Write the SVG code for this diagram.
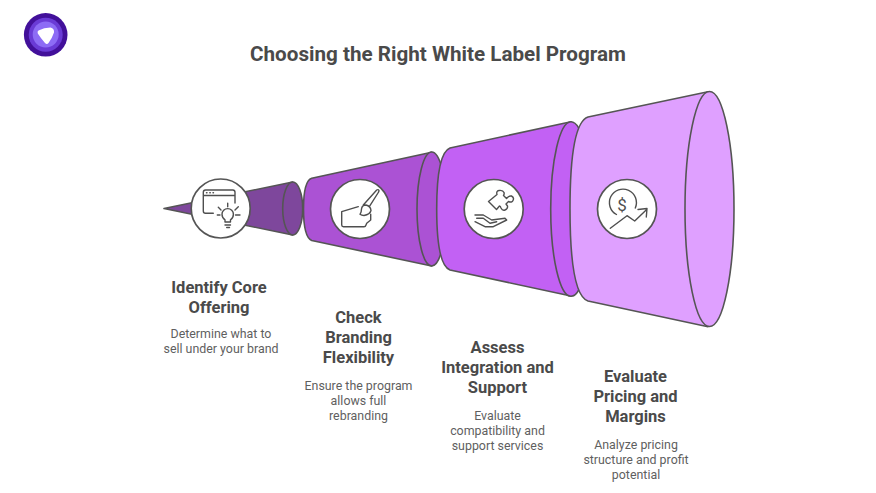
<svg xmlns="http://www.w3.org/2000/svg" width="876" height="493" viewBox="0 0 876 493">
<style>
text{font-family:Roboto,"Liberation Sans",sans-serif;text-anchor:middle}
.t{font-size:20.65px;font-weight:700;fill:#4a4a4a}
.h{font-size:16.5px;font-weight:700;fill:#4a4a4a}
.d{font-size:12.4px;fill:#5f5f5f}
.s{stroke:#555;stroke-width:1.6;stroke-linejoin:round;stroke-linecap:round}
.c{fill:#fff;stroke:#555;stroke-width:1.7}
.i{fill:none;stroke:#4f4f4f;stroke-width:1.4;stroke-linecap:round;stroke-linejoin:round}
</style>
<rect width="876" height="493" fill="#fff"/>
<g id="logo">
<circle cx="45.700" cy="34.800" r="21.800" fill="#42109a"/>
<circle cx="45.700" cy="34.800" r="17" fill="#6a3bd6"/>
<circle cx="45.700" cy="34.500" r="13" fill="#8d6cf5"/>
<path d="M38.500 30.500Q44 27.500 50.500 27.500Q54.500 28.500 54 32.500Q52 38.500 48.500 43Q47 45 45 43Q41 38.500 37.800 33.500Q37 31.500 38.500 30.500Z" fill="#fff"/>
</g>
<text class="t" x="438" y="61">Choosing the Right White Label Program</text>
<g id="connectors"></g>
<g id="stage1">
<path class="s" fill="#7e479c" d="M292.700 182L164 208.500L292.700 235Z"/>
<ellipse class="s" fill="#7e479c" cx="292.700" cy="208.500" rx="10" ry="26.500"/>
</g>
<g id="stage2">
<path class="s" fill="#ab52d4" d="M431.700 152.300L311.700 178.300Q303.500 181 303.500 209Q303.500 237 311.700 240.500L431.700 266Z"/>
<ellipse class="s" fill="#ab52d4" cx="431.700" cy="209" rx="14.700" ry="57"/>
</g>
<g id="stage3">
<path class="s" fill="#c261f4" d="M571 121.700L450 148Q436.700 153 436.700 209Q436.700 265 450 270L571 296Z"/>
<ellipse class="s" fill="#c261f4" cx="571" cy="209" rx="20.300" ry="87.300"/>
</g>
<g id="stage4">
<path class="s" fill="#dfa0ff" d="M708 91.700L588 117Q570 123 570 209Q570 295 588 301L708 326.700Z"/>
<ellipse class="s" fill="#dfa0ff" cx="709.500" cy="209" rx="24.500" ry="117.500"/>
</g>
<g id="node1">
<circle class="c" cx="220.700" cy="208.500" r="29.500"/>
<path class="i" d="M213.300 213.300H205.500Q203.300 213.300 203.300 211V192.300Q203.300 190 205.500 190H232.800Q235 190 235 192.300V203M203.300 195.500H235"/>
<path class="i" d="M206.500 192.800h.5M209.800 192.800h.5M213 192.800h.5"/>
<path class="i" d="M225 222V219.800Q222 218 222 214.300A5.700 5.700 0 0 1 233.400 214.300Q233.400 218 230.500 219.800V222ZM225 225H230.500M226.700 227.500H229.500M227.700 203.300V206.700M218.300 207.300L221 210M238.300 206.700L235 210M217.300 215H220M235.500 215H240"/>
</g>
<g id="node2">
<circle class="c" cx="360" cy="209" r="29.500"/>
<path class="i" d="M358.300 206.700L341.700 211.700V225Q341.700 226.700 343.500 226.700H364Q365.500 226.700 366 225L366.700 223.300L370.700 220V214.300"/>
<path class="i" d="M363.300 205L376.700 190Q378.300 189 379 190.500Q379 191.500 378.300 192.500L369.300 206.700M360 214.300Q361.500 212 361.500 209Q362 205 366 205Q370.500 206 371 210.500Q370 214.500 364 215.500Q361.500 215.500 360 214.300Z"/>
</g>
<g id="node3">
<circle class="c" cx="493.700" cy="209" r="29.500"/>
<path class="i" d="M488.500 201.500L497 194.500Q496 191 499 190.500Q503 190 504 192.500Q504.500 194 503.500 195.500L506.500 198.500Q509 195.500 511.500 196Q514.500 197.500 513 200.500Q512 203 508.500 201.500L506 204L507.500 206Q508 209 505 210Q502.500 211 501 208Q500.500 206 499.500 206L496.500 209.500Z"/>
<path class="i" d="M475 215H483.300L491.700 220L505 218.300L506.700 220L493.300 226.700H485L475 221.700M476.700 218.300H483.300L490 223.300L496.700 221.700"/>
</g>
<g id="node4">
<circle class="c" cx="627" cy="209" r="29.500"/>
<path class="i" d="M616.500 214.500A13.500 13.500 0 1 1 635.300 208"/>
<path class="i" d="M610.300 228.300L627 215.700L634.700 221L646.700 209.500M638 209.500L647 208.500L646.300 217"/>
<text x="622" y="211" style="font-size:17px;fill:#4f4f4f">$</text>
</g>
<g id="label1">
<text class="h" x="219" y="293">Identify Core</text><text class="h" x="219" y="313">Offering</text>
<text class="d" x="221" y="338">Determine what to</text><text class="d" x="221" y="353">sell under your brand</text>
</g>
<g id="label2">
<text class="h" x="358.500" y="323">Check</text><text class="h" x="358.500" y="343">Branding</text><text class="h" x="358.500" y="363">Flexibility</text>
<text class="d" x="358.500" y="390">Ensure the program</text><text class="d" x="358.500" y="405">allows full</text><text class="d" x="358.500" y="420">rebranding</text>
</g>
<g id="label3">
<text class="h" x="497.500" y="353">Assess</text><text class="h" x="497.500" y="373">Integration and</text><text class="h" x="497.500" y="393">Support</text>
<text class="d" x="497.500" y="420">Evaluate</text><text class="d" x="497.500" y="435">compatibility and</text><text class="d" x="497.500" y="450">support services</text>
</g>
<g id="label4">
<text class="h" x="635.500" y="382">Evaluate</text><text class="h" x="635.500" y="402">Pricing and</text><text class="h" x="635.500" y="422">Margins</text>
<text class="d" x="636" y="449">Analyze pricing</text><text class="d" x="636" y="464">structure and profit</text><text class="d" x="636" y="479">potential</text>
</g>
</svg>
